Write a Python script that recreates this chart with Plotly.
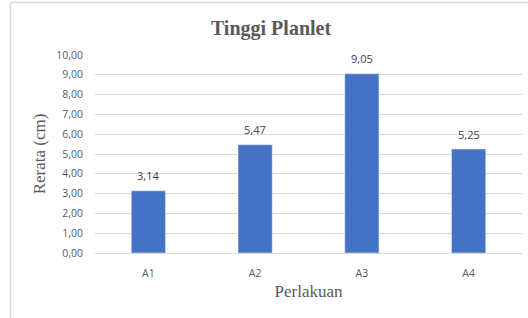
import plotly.graph_objects as go

categories = ["A1", "A2", "A3", "A4"]
values = [3.14, 5.47, 9.05, 5.25]
value_labels = ["3,14", "5,47", "9,05", "5,25"]
y_tick_vals = [0, 1, 2, 3, 4, 5, 6, 7, 8, 9, 10]
y_tick_text = ["0,00", "1,00", "2,00", "3,00", "4,00", "5,00", "6,00", "7,00", "8,00", "9,00", "10,00"]

W, H = 528, 318
L, R, T, B = 95, 6, 55, 65
pw, ph = W - L - R, H - T - B

fig = go.Figure(go.Bar(
    x=categories, y=values, marker_color="#4472C4",
))

for c, v, t in zip(categories, values, value_labels):
    fig.add_annotation(x=c, y=v, text=t, showarrow=False, yanchor="middle",
                       yshift=15,
                       font=dict(family="Open Sans, sans-serif", size=11, color="#404040"))

def px_x(x):
    return (x - L) / pw

def px_y(y):
    return (H - B - y) / ph

fig.add_shape(type="line", xref="paper", yref="paper",
              x0=px_x(10.5), x1=px_x(10.5), y0=px_y(2.5), y1=px_y(318),
              line=dict(color="#D9D9D9", width=1.5))
fig.add_shape(type="line", xref="paper", yref="paper",
              x0=px_x(10.5), x1=px_x(528), y0=px_y(2.5), y1=px_y(2.5),
              line=dict(color="#D9D9D9", width=1.5))

fig.update_layout(
    width=W, height=H,
    margin=dict(l=L, r=R, t=T, b=B),
    paper_bgcolor="white", plot_bgcolor="white",
    bargap=0.68, showlegend=False,
    title=dict(text="<b>Tinggi Planlet</b>", x=271 / W, xanchor="center",
               y=1 - 28 / H, yanchor="middle",
               font=dict(family="Liberation Serif, serif", size=20, color="#595959")),
    xaxis=dict(showgrid=False, showline=True, linecolor="#D9D9D9", linewidth=1,
               ticks="", ticklabelstandoff=10,
               tickfont=dict(family="Open Sans, sans-serif", size=10.5, color="#595959"),
               title=dict(text="Perlakuan", standoff=6,
                          font=dict(family="Liberation Serif, serif", size=17, color="#595959"))),
    yaxis=dict(range=[0, 10], tickvals=y_tick_vals, ticktext=y_tick_text,
               showgrid=True, gridcolor="#D9D9D9", gridwidth=1, zeroline=False,
               ticks="", ticklabelstandoff=11,
               tickfont=dict(family="Open Sans, sans-serif", size=10.5, color="#595959"),
               title=dict(text="Rerata (cm)", standoff=6,
                          font=dict(family="Liberation Serif, serif", size=17, color="#595959"))),
)

fig.write_html("out.html", config={"displayModeBar": False},
               post_script="document.body.style.margin='0';document.body.style.padding='0';")
